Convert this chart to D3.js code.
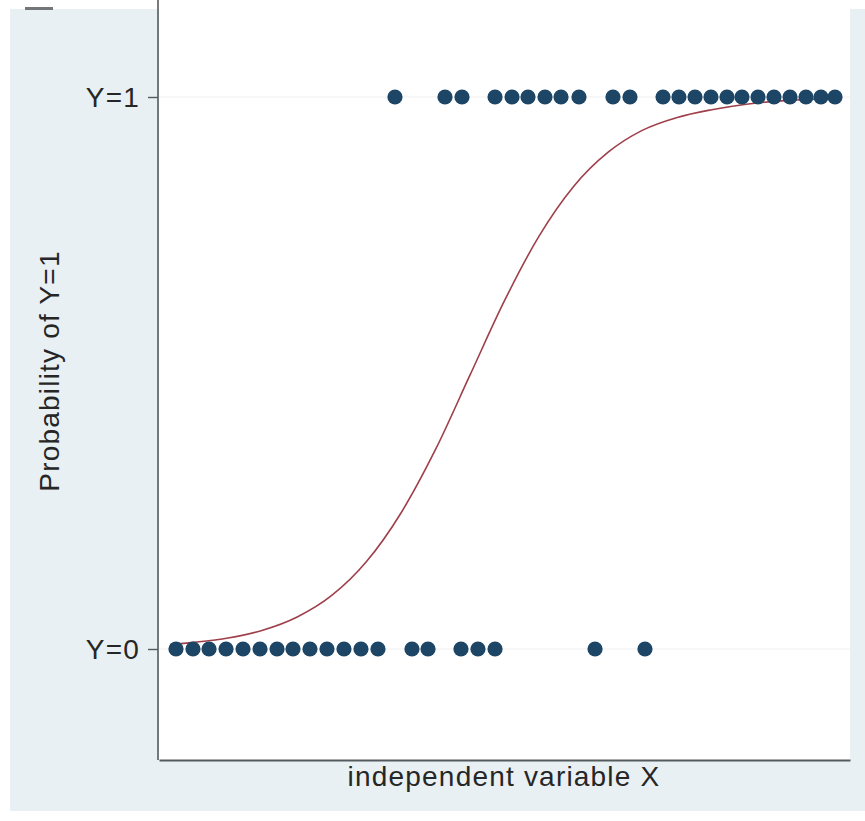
<!DOCTYPE html>
<html>
<head>
<meta charset="utf-8">
<script src="https://cdn.jsdelivr.net/npm/d3@7/dist/d3.min.js"></script>
<style>
  html, body { margin: 0; padding: 0; background: #ffffff; }
  svg { display: block; }
</style>
</head>
<body>
<svg id="chart" width="865" height="821"></svg>
<script>
// ---- data ----
const xOnes = [34.15, 41.39, 43.85, 48.63, 51.09, 53.40, 55.86, 58.18, 60.78, 65.70, 68.16,
  72.94, 75.25, 77.57, 79.88, 82.20, 84.37, 86.69, 89.00, 91.32, 93.63, 95.80, 97.83];
const xZeros = [2.46, 4.92, 7.24, 9.70, 12.16, 14.62, 17.08, 19.39, 21.85, 24.31, 26.77, 29.23, 31.69,
  36.61, 38.93, 43.70, 46.16, 48.63, 63.10, 70.33];
const curveX = [1.6, 5, 10, 15, 20, 25, 30, 35, 40, 45, 50, 55, 60, 65, 70, 75, 80, 85, 90, 95, 98.5];
const curveP = [0.008, 0.012, 0.020, 0.034, 0.058, 0.097, 0.158, 0.246, 0.361, 0.496, 0.631, 0.748,
  0.838, 0.900, 0.940, 0.963, 0.977, 0.987, 0.993, 0.996, 0.997];
const yTickValues = [0, 1];
const yTickLabels = ["Y=0", "Y=1"];
const xTitle = "independent variable X";
const yTitle = "Probability of Y=1";

// ---- layout ----
const svg = d3.select("#chart");
const plot = { left: 159, right: 850, top: 0, bottom: 760 };
const x = d3.scaleLinear().domain([0, 100]).range([plot.left, plot.right]);
const y = d3.scaleLinear().domain([0, 1]).range([649, 97]);

const font = "'Liberation Sans', Arial, Helvetica, sans-serif";
const textColor = "#262626";

// outer background
svg.append("rect").attr("x", 10).attr("y", 9).attr("width", 855).attr("height", 802)
  .attr("fill", "#e9f0f3");
// cropped fragment at top-left
svg.append("rect").attr("x", 25).attr("y", 7).attr("width", 28).attr("height", 3)
  .attr("fill", "#5a5f63").attr("opacity", 0.85);

// plot region
svg.append("rect").attr("x", plot.left).attr("y", plot.top)
  .attr("width", plot.right - plot.left).attr("height", plot.bottom - plot.top)
  .attr("fill", "#ffffff");

// gridlines
svg.append("g").selectAll("line").data(yTickValues).join("line")
  .attr("x1", plot.left).attr("x2", plot.right)
  .attr("y1", d => y(d)).attr("y2", d => y(d))
  .attr("stroke", "#efefef").attr("stroke-width", 1.2);

// y axis
const yAxis = d3.axisLeft(y).tickValues(yTickValues)
  .tickFormat(d => yTickLabels[yTickValues.indexOf(d)])
  .tickSize(10).tickPadding(8);
const gy = svg.append("g").attr("transform", `translate(${plot.left - 1},0)`).call(yAxis);
gy.select(".domain").remove();
gy.append("line").attr("x1", 0).attr("x2", 0).attr("y1", plot.top).attr("y2", plot.bottom)
  .attr("stroke", "#555a5e").attr("stroke-width", 1.6);
gy.selectAll(".tick line").attr("stroke", "#555a5e").attr("stroke-width", 1.4);
gy.selectAll(".tick text").attr("font-family", font).attr("font-size", 28)
  .attr("letter-spacing", "1.2px")
  .attr("fill", textColor).attr("dy", "0.35em");

// x axis line
const xAxis = d3.axisBottom(x).tickValues([]).tickSize(0);
const gx = svg.append("g").attr("transform", `translate(0,${plot.bottom})`).call(xAxis);
gx.select(".domain").attr("stroke", "#555a5e").attr("stroke-width", 1.8);

// fitted curve
const line = d3.line().x(d => x(d[0])).y(d => y(d[1])).curve(d3.curveMonotoneX);
svg.append("path").datum(curveX.map((v, i) => [v, curveP[i]]))
  .attr("d", line).attr("fill", "none")
  .attr("stroke", "#9e3f4a").attr("stroke-width", 1.6);

// points
const dotColor = "#1c4566";
svg.append("g").selectAll("circle").data(xOnes).join("circle")
  .attr("cx", d => x(d)).attr("cy", y(1)).attr("r", 7.6).attr("fill", dotColor);
svg.append("g").selectAll("circle").data(xZeros).join("circle")
  .attr("cx", d => x(d)).attr("cy", y(0)).attr("r", 7.6).attr("fill", dotColor);

// titles
svg.append("text").attr("x", 504).attr("y", 786).attr("text-anchor", "middle")
  .attr("font-family", font).attr("font-size", 28).attr("letter-spacing", "1.2px")
  .attr("fill", textColor)
  .text(xTitle);
svg.append("text").attr("transform", "translate(59,371) rotate(-90)")
  .attr("text-anchor", "middle")
  .attr("font-family", font).attr("font-size", 28).attr("letter-spacing", "1.2px")
  .attr("fill", textColor)
  .text(yTitle);
</script>
</body>
</html>
